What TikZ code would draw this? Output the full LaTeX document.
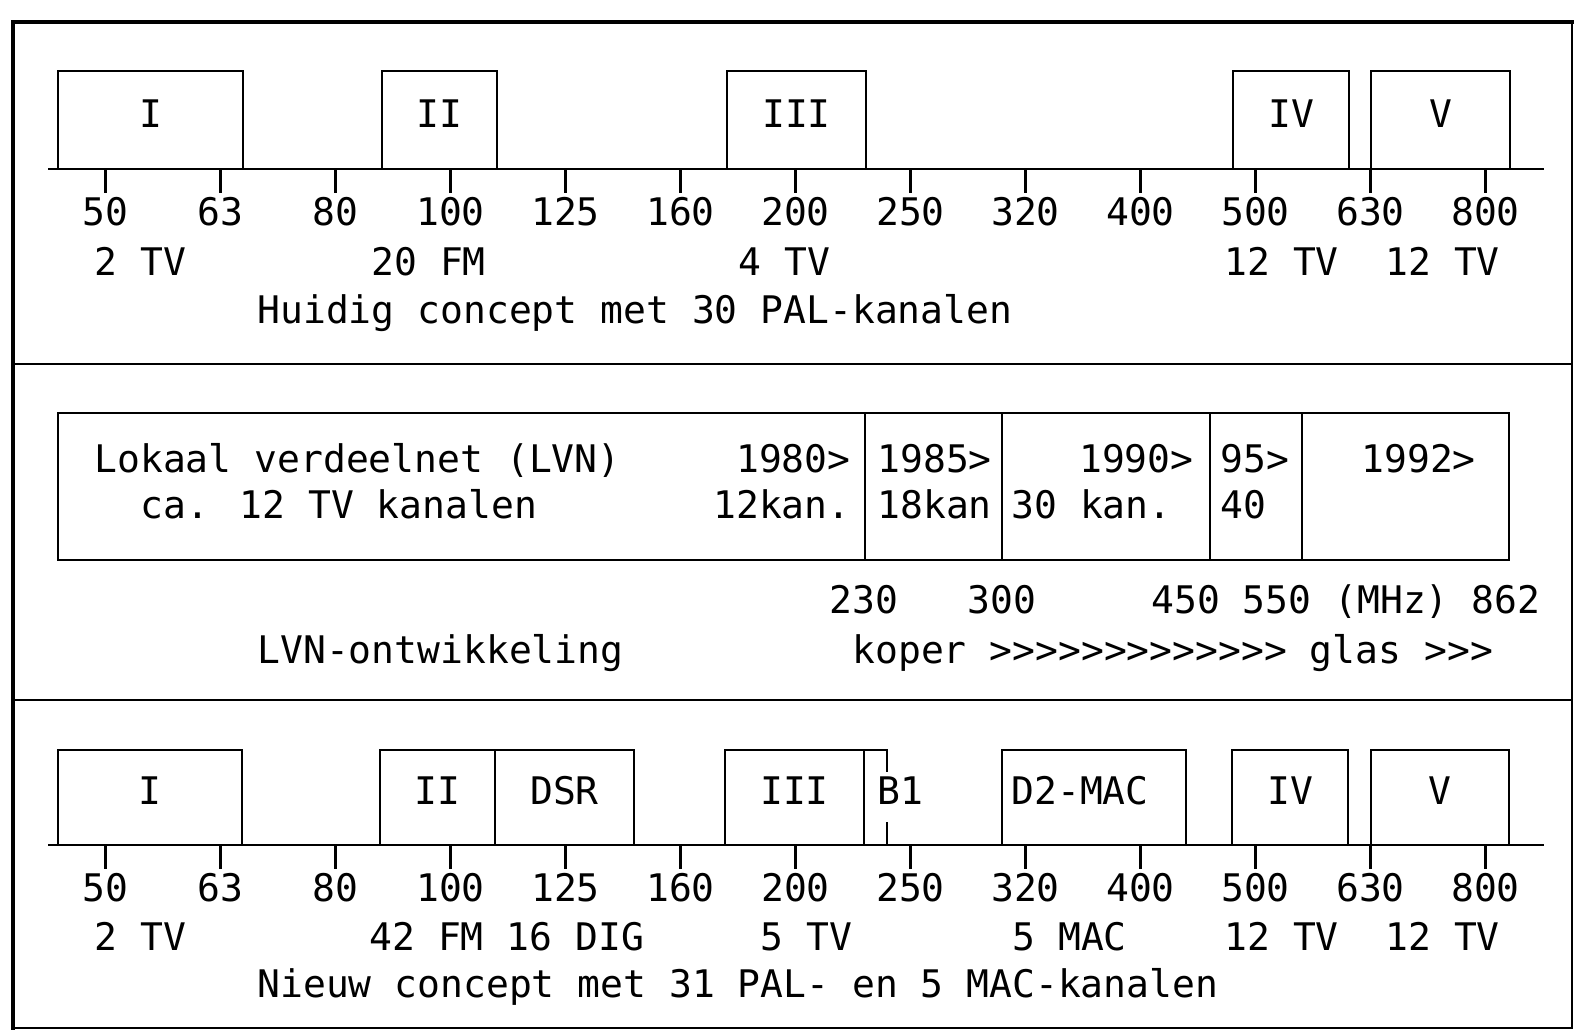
\documentclass[tikz,border=0pt]{standalone}
\usepackage{fontspec}
\usepackage{tikz}
\newfontfamily\lvnfont{DejaVu Sans Mono}
\newcommand{\lvntxt}{\lvnfont\fontsize{19pt}{22pt}\selectfont}
\tikzset{
  frame/.style={line width=1.2pt},
  band/.style={draw, line width=1.3pt},
  axis/.style={line width=1.4pt},
  tick/.style={line width=1.2pt},
  txt/.style={font=\lvntxt, inner sep=0pt, anchor=base},
  txtw/.style={txt, anchor=base west},
  txte/.style={txt, anchor=base east},
}

\begin{document}
\begin{tikzpicture}[x=0.5pt, y=-0.5pt]
  \useasboundingbox (0,0) rectangle (1575,1033);
  % Frame and panel dividers
  \draw[frame] (13,22) rectangle (1572,1028);
  \draw[line width=2.4pt, line cap=rect] (13,1028) -- (13,22) -- (1572,22);
  \draw[frame] (13,364) -- (1572,364);
  \draw[frame] (13,700) -- (1572,700);
  % Frequency scales of both concepts
  \foreach \ya in {169,845} {
    \draw[axis] (48,\ya) -- (1544,\ya);
    \foreach \f [count=\i from 0] in {50,63,80,100,125,160,200,250,320,400,500,630,800} {
      \draw[tick] (105.5+115*\i,\ya) -- (105.5+115*\i,\ya+24);
      \node[txt] (f\ya-\i) at (105.5+115*\i,\ya+56) {\f};
    }
  }
  % Huidig concept
  \foreach \xa/\xb/\t in {58/243/I, 382/497/II, 727/866/III, 1233/1349/IV, 1371/1510/V} {
    \draw[band] (\xa,71) rectangle (\xb,169);
    \node[txt] (h-\t) at ({(\xa+\xb)/2},127) {\t};
  }
  \node[txtw] (hTVa) at (94,275) {2 TV};
  \node[txtw] (hFM) at (371,275) {20 FM};
  \node[txtw] (hTVb) at (738,275) {4 TV};
  \node[txtw] (hTVc) at (1224,275) {12 TV};
  \node[txtw] (hTVd) at (1385,275) {12 TV};
  \node[txtw] (hcap) at (257,323) {Huidig concept met 30 PAL-kanalen};
  % LVN-ontwikkeling
  \draw[band] (58,413) rectangle (1509,560);
  \foreach \xa in {865,1002,1210,1302}
    \draw[band] (\xa,413) -- (\xa,560);
  \node[txtw] (lvn) at (94,472) {Lokaal verdeelnet (LVN)};
  \node[txtw] (lvnk) at (140,518) {ca. 12 TV kanalen};
  \node[txte] (y80) at (851,472) {1980>};
  \node[txte] (k80) at (851,518) {12kan.};
  \node[txtw] (y85) at (877,472) {1985>};
  \node[txtw] (k85) at (877,518) {18kan};
  \node[txte] (y90) at (1194,472) {1990>};
  \node[txtw] (k90) at (1011,518) {30 kan.};
  \node[txtw] (y95) at (1220,472) {95>};
  \node[txtw] (k95) at (1220,518) {40};
  \node[txtw] (y92) at (1361,472) {1992>};
  \node[txtw] (m230) at (829,613) {230};
  \node[txtw] (m300) at (967,613) {300};
  \node[txtw] (m450) at (1151,613) {450 550 (MHz) 862};
  \node[txtw] (lcap) at (257,663) {LVN-ontwikkeling};
  \node[txtw] (koper) at (852,663) {koper >>>>>>>>>>>>> glas >>>};
  % Nieuw concept
  \foreach \xa/\xb/\t in {58/242/I, 380/495/II, 495/634/DSR, 725/864/III, 1002/1186/, 1232/1348/IV, 1371/1509/V} {
    \draw[band] (\xa,750) rectangle (\xb,845);
    \node[txt] (n-\t) at ({(\xa+\xb)/2},804) {\t};
  }
  \draw[band] (864,750) -- (887,750) -- (887,772);
  \draw[band] (887,822) -- (887,845);
  \node[txtw] (nB1) at (877,804) {B1};
  \node[txtw] (nMAC) at (1011,804) {D2-MAC};
  \node[txtw] (nTVa) at (94,950) {2 TV};
  \node[txtw] (nFM) at (369,950) {42 FM 16 DIG};
  \node[txtw] (nTVb) at (760,950) {5 TV};
  \node[txtw] (nMACk) at (1012,950) {5 MAC};
  \node[txtw] (nTVc) at (1224,950) {12 TV};
  \node[txtw] (nTVd) at (1385,950) {12 TV};
  \node[txtw] (ncap) at (257,997) {Nieuw concept met 31 PAL- en 5 MAC-kanalen};
\end{tikzpicture}
\end{document}
